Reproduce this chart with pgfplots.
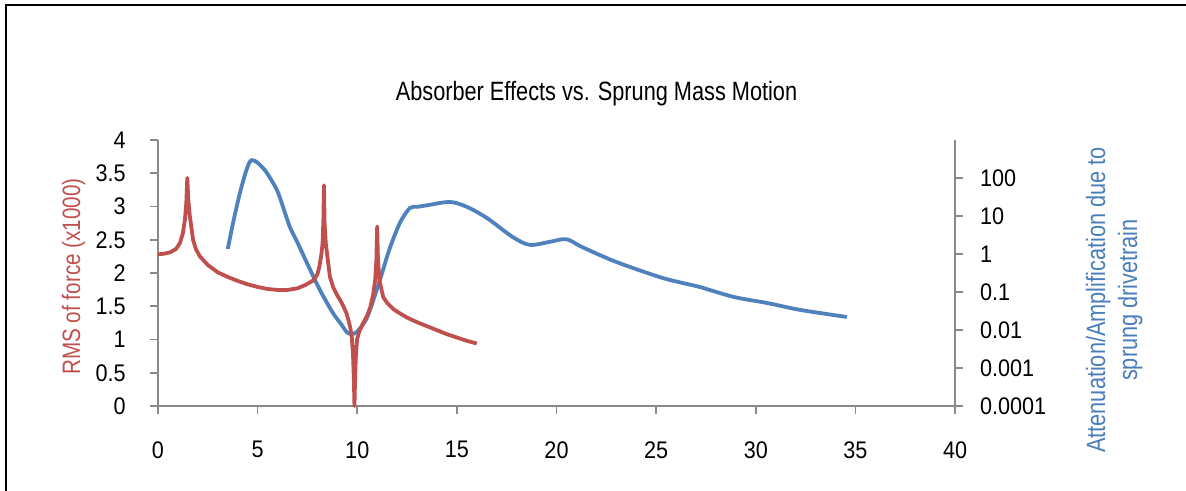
\documentclass[border=0pt]{standalone}
\usepackage{fontspec}
\setmainfont{Liberation Sans}
\newfontfamily\tickfont{Liberation Sans}[FakeStretch=0.9]
\newfontfamily\labfont{Liberation Sans}[FakeStretch=0.82]
\usepackage{pgfplots}
\pgfplotsset{compat=1.18}
\definecolor{redline}{HTML}{C0504D}
\definecolor{blueline}{HTML}{4F81BD}
\definecolor{bluetext}{HTML}{4A7EBB}
\definecolor{axisgray}{HTML}{898989}
\begin{document}
\begin{tikzpicture}
\path[use as bounding box] (0,0) rectangle (593pt,245.5pt);
\draw[black, line width=1.3pt] (3pt,0) -- (3pt,243pt) -- (593pt,243pt);
% secondary axis (log)
\begin{axis}[
  at={(79pt,42.5pt)}, anchor=south west,
  scale only axis, width=398.5pt, height=133pt,
  xmin=0, xmax=40,
  ymode=log, ymin=1e-4, ymax=1e3,
  axis x line=none,
  axis y line=right,
  axis line style={draw=axisgray, line width=1pt, -},
  tick align=outside, major tick length=4pt,
  tick style={draw=axisgray, line width=0.8pt},
  minor tick style={draw=none},
  ytick={1e-4,1e-3,1e-2,1e-1,1,10,100},
  yticklabels={0.0001,0.001,0.01,0.1,1,10,100},
  yticklabel style={font=\tickfont\fontsize{12}{14}\selectfont, anchor=west, xshift=5pt},
  clip=false,
]
\addplot[blueline, line width=1.9pt, smooth, tension=0.5] coordinates {
(3.5,1.35) (3.8,7.9) (4.11,40) (4.4,141) (4.6,263) (4.75,295) (4.95,263)
(5.2,200) (5.47,135) (5.97,48) (6.3,15.8) (6.62,5.1) (7.0,2.0) (7.48,0.575)
(8.13,0.112) (8.78,0.028) (9.2,0.0141) (9.48,0.0087) (9.7,0.0079) (9.98,0.0089)
(10.5,0.0219) (11.14,0.209) (11.6,1.26) (12.14,6.6) (12.64,16.2) (13.0,17.4)
(13.5,19.1) (14.65,23.4) (15.5,17.4) (16.5,8.9) (17.8,2.8) (18.66,1.74)
(19.67,2.09) (20.5,2.45) (21.3,1.51) (23.0,0.617) (25.2,0.245) (26.3,0.174)
(27.2,0.135) (28.9,0.074) (30.6,0.051) (32.2,0.034) (34.57,0.022)
};
\end{axis}
% primary axis
\begin{axis}[
  at={(79pt,42.5pt)}, anchor=south west,
  scale only axis, width=398.5pt, height=133pt,
  xmin=0, xmax=40, ymin=0, ymax=4,
  axis x line=bottom, axis y line=left,
  axis line style={draw=axisgray, line width=1pt, -},
  tick align=outside, major tick length=4pt,
  tick style={draw=axisgray, line width=0.8pt},
  xtick={0,5,...,40},
  ytick={0,0.5,...,4},
  /pgf/number format/assume math mode=true,
  ticklabel style={font=\tickfont\fontsize{12}{14}\selectfont},
  yticklabel style={anchor=east, inner xsep=12pt},
  xticklabel style={anchor=north, inner ysep=0pt, yshift=-13.5pt},
  clip=false,
]
\addplot[redline, line width=1.9pt, line join=round] coordinates {
(0,2.28) (0.3,2.29) (0.6,2.31) (0.9,2.36) (1.1,2.45) (1.25,2.6) (1.35,2.8)
(1.42,3.05) (1.47,3.43) (1.52,3.1) (1.6,2.85) (1.76,2.5) (1.9,2.36) (2.1,2.25)
(2.5,2.12) (3.0,2.01) (3.5,1.94) (4.0,1.88) (4.5,1.83) (5.0,1.79)
(5.5,1.76) (6.0,1.745) (6.5,1.745) (7.0,1.77) (7.4,1.82) (7.8,1.89) (8.0,1.98)
(8.1,2.1) (8.2,2.28) (8.26,2.45) (8.3,2.8) (8.33,3.32) (8.36,2.75) (8.42,2.45)
(8.5,2.25) (8.63,1.94) (8.8,1.78) (9.0,1.66) (9.13,1.6) (9.3,1.5) (9.45,1.4) (9.55,1.3)
(9.65,1.18) (9.73,1.02) (9.79,0.75) (9.83,0.4) (9.86,0.0) (9.89,0.4) (9.93,0.75)
(9.99,1.0) (10.1,1.12) (10.3,1.25) (10.5,1.36) (10.65,1.48) (10.8,1.68)
(10.9,1.9) (10.96,2.2) (11.0,2.7) (11.04,2.2) (11.12,1.88) (11.3,1.64)
(11.5,1.55) (11.8,1.46) (12.1,1.40) (12.5,1.33) (13.0,1.26) (13.5,1.2)
(14.0,1.14) (14.5,1.08) (15.0,1.03) (15.5,0.98) (16.0,0.94)
};
\end{axis}
\node[anchor=base, inner sep=0pt, font=\labfont\fontsize{13.25}{15}\selectfont] at (298.25pt,195pt) {Absorber Effects vs. Sprung Mass Motion};
\node[anchor=base, inner sep=0pt, rotate=90, text=redline, font=\labfont\fontsize{12.6}{15}\selectfont] at (40pt,107.25pt) {RMS of force (x1000)};
\node[anchor=base, inner sep=0pt, rotate=90, text=bluetext, font=\labfont\fontsize{13.25}{15}\selectfont] at (552.5pt,95.5pt) {Attenuation/Amplification due to};
\node[anchor=base, inner sep=0pt, rotate=90, text=bluetext, font=\labfont\fontsize{13.25}{15}\selectfont] at (568.5pt,95.5pt) {sprung drivetrain};
\end{tikzpicture}
\end{document}
